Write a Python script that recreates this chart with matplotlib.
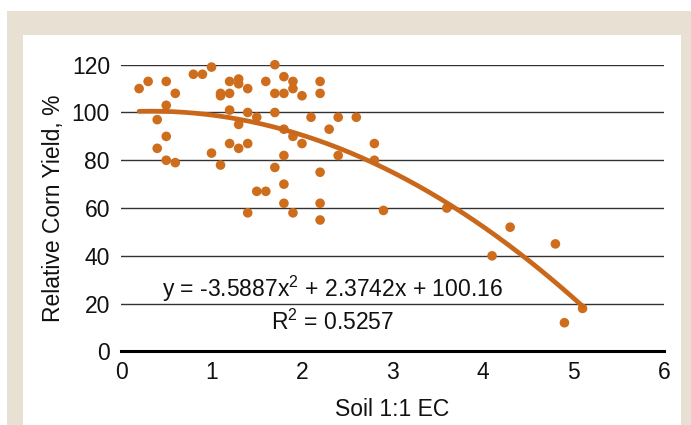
import numpy as np
import matplotlib
matplotlib.use("Agg")
import matplotlib.pyplot as plt
from matplotlib.patches import Rectangle

plt.rcParams['font.family'] = ['Liberation Sans', 'DejaVu Sans']
plt.rcParams['mathtext.fontset'] = 'custom'
plt.rcParams['mathtext.rm'] = 'Liberation Sans'
plt.rcParams['mathtext.it'] = 'Liberation Sans'
plt.rcParams['mathtext.default'] = 'regular'

# Data
soil_ec = [0.2, 0.3, 0.5, 0.6, 0.5, 0.4, 0.5, 0.4, 0.5, 0.6,
           0.8, 0.9, 1.0, 1.1, 1.1, 1.0, 1.1, 1.2, 1.3, 1.3,
           1.4, 1.2, 1.2, 1.3, 1.4, 1.5, 1.2, 1.3, 1.4, 1.5,
           1.6, 1.4, 1.6, 1.7, 1.8, 1.9, 1.9, 1.7, 1.8, 1.7,
           1.8, 1.9, 2.0, 2.0, 2.1, 1.8, 1.7, 1.8, 1.8, 1.9,
           2.2, 2.2, 2.2, 2.2, 2.2, 2.3, 2.4, 2.6, 2.4, 2.8,
           2.8, 2.9, 3.6, 4.1, 4.3, 4.8, 4.9, 5.1]
rel_yield = [110, 113, 113, 108, 103, 97, 90, 85, 80, 79,
             116, 116, 119, 108, 107, 83, 78, 113, 114, 112,
             110, 108, 101, 95, 100, 98, 87, 85, 87, 67,
             67, 58, 113, 120, 115, 113, 110, 108, 108, 100,
             93, 90, 107, 87, 98, 82, 77, 70, 62, 58,
             113, 108, 75, 62, 55, 93, 98, 98, 82, 87,
             80, 59, 60, 40, 52, 45, 12, 18]

# Trendline coefficients as printed on the chart
coef_a, coef_b, coef_c = -3.5887, 2.3742, 100.16
r_squared = 0.5257

x_ticks = [0, 1, 2, 3, 4, 5, 6]
y_ticks = [0, 20, 40, 60, 80, 100, 120]

W, H = 691, 425
fig = plt.figure(figsize=(W / 100, H / 100), dpi=100)
fig.patch.set_facecolor('white')

# background frame (beige border with white panel)
bg = fig.add_axes([0, 0, 1, 1], zorder=-10)
bg.set_xlim(0, W)
bg.set_ylim(H, 0)
bg.axis('off')
beige = '#E7E0D3'
bg.add_patch(Rectangle((6.6, 10.6), W - 6.6, H - 10.6, facecolor=beige, edgecolor='none'))
bg.add_patch(Rectangle((23, 35), 681 - 23, H - 35, facecolor='white', edgecolor='none'))

ax = fig.add_axes([121 / W, 1 - 351.4 / H, (664 - 121) / W, (351.4 - 64.7) / H], zorder=1)
ax.set_facecolor('none')

orange = '#CE6E1D'
ax.scatter(soil_ec, rel_yield, s=48, color=orange, edgecolors='none',
           zorder=3, clip_on=False)

xs = np.linspace(min(soil_ec), max(soil_ec), 200)
ys = coef_a * xs ** 2 + coef_b * xs + coef_c
ax.plot(xs, ys, color='#C9681B', lw=3.4, solid_capstyle='round', zorder=4)

fs = 16.5
ax.set_xlim(0, 6)
ax.set_ylim(0, 120)
ax.set_xticks(x_ticks)
ax.set_yticks(y_ticks)
ax.set_xticklabels([str(v) for v in x_ticks])
ax.set_yticklabels([str(v) for v in y_ticks])
ax.tick_params(axis='both', length=0, labelsize=fs, colors='#111111')
ax.tick_params(axis='y', pad=8)
ax.tick_params(axis='x', pad=7)

for v in y_ticks[1:]:
    ax.axhline(v, color='#333333', lw=1.0, zorder=1)

for side in ['top', 'right', 'left']:
    ax.spines[side].set_visible(False)
ax.spines['bottom'].set_linewidth(2.2)
ax.spines['bottom'].set_color('black')
ax.spines['bottom'].set_zorder(5)

ax.set_xlabel('Soil 1:1 EC', fontsize=fs, labelpad=10, color='#111111')
ax.set_ylabel('Relative Corn Yield, %', fontsize=fs, labelpad=5, color='#111111')

ax.text(2.34, 26.0,
        f'y = {coef_a}x$^{{2}}$ + {coef_b}x + {coef_c}',
        ha='center', va='center', fontsize=fs, color='#111111', zorder=6)
ax.text(2.34, 12.3, f'R$^{{2}}$ = {r_squared}',
        ha='center', va='center', fontsize=fs, color='#111111', zorder=6)

fig.savefig('out.png', dpi=100, facecolor=fig.get_facecolor())
